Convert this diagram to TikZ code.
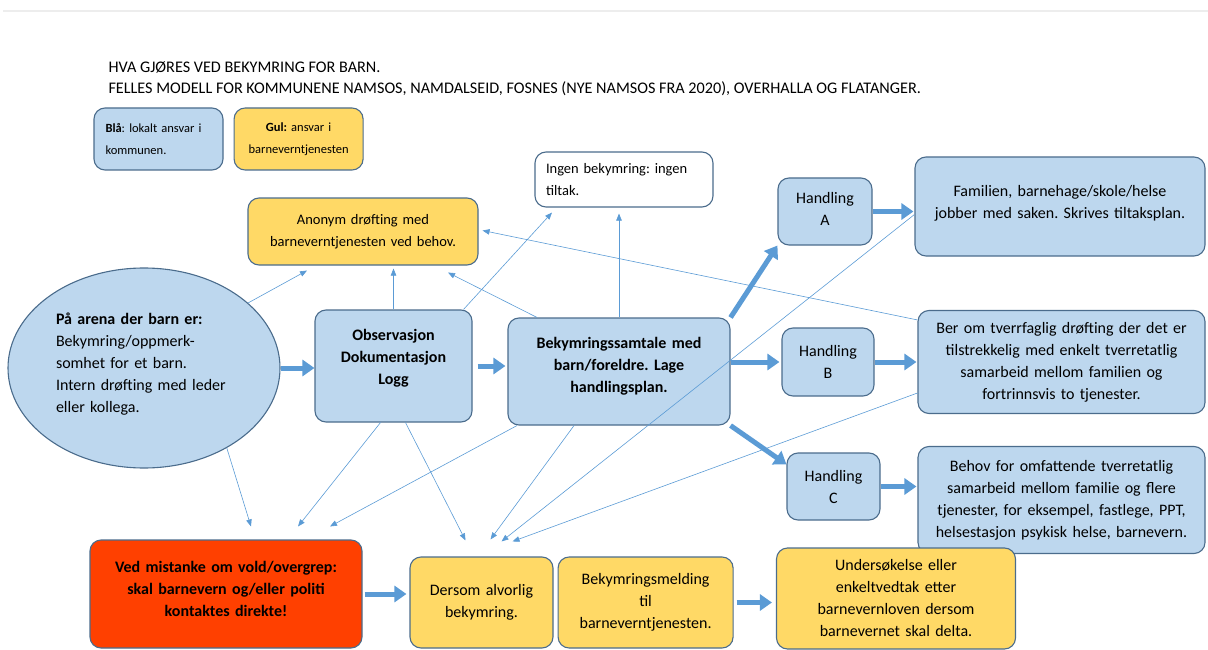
\documentclass[tikz,border=0pt]{standalone}
\usepackage{fontspec}
\setmainfont{Carlito}
\usepackage{tikz}
\usetikzlibrary{positioning}
\usetikzlibrary{arrows.meta}
\usetikzlibrary{shapes.geometric}
\definecolor{boxblue}{RGB}{189,215,238}
\definecolor{boxyellow}{RGB}{255,217,102}
\definecolor{boxred}{RGB}{255,64,0}
\definecolor{boxedge}{RGB}{75,108,140}
\definecolor{arrowblue}{RGB}{91,155,213}
\newcommand{\boxfont}{\fontsize{16}{22}\selectfont}
\newcommand{\smallfont}{\fontsize{14.5}{21.5}\selectfont}
\newcommand{\legendfont}{\fontsize{12.5}{21.5}\selectfont}
\newcommand{\titlefont}{\fontsize{16.2}{21}\selectfont}
\tikzset{
every picture/.style={line width=1pt},
bluebox/.style={rectangle, rounded corners=11pt, draw=boxedge, fill=boxblue, line width=1.1pt, inner sep=0pt, align=center, font=\boxfont},
yellowbox/.style={bluebox, fill=boxyellow},
redbox/.style={bluebox, fill=boxred},
whitebox/.style={bluebox, fill=white},
arenanode/.style={ellipse, draw=boxedge, fill=boxblue, line width=1.1pt, inner sep=0pt, align=left, font=\boxfont},
thinarrow/.style={draw=arrowblue, line width=0.6pt, -{Triangle[length=7pt,width=5.5pt]}},
fatarrow/.style={draw=arrowblue, line width=5pt, -{Triangle[length=12pt,width=16pt]}}
}

\begin{document}
\frenchspacing
\begin{tikzpicture}[x=1pt, y=-1pt]
\useasboundingbox (0,0) rectangle (1208,650);
\draw[black!7, line width=1.5pt] (3,11) -- (1208,11);

%Title
\node (title) [anchor=north west, align=left, inner sep=0pt, font=\titlefont] at (108,61) {HVA GJØRES VED BEKYMRING FOR BARN.\\FELLES MODELL FOR KOMMUNENE NAMSOS, NAMDALSEID, FOSNES (NYE NAMSOS FRA 2020), OVERHALLA OG FLATANGER.};

%Legend
\node (blaa) [bluebox, minimum width=129pt, minimum height=62pt, text width=106pt, align=left, font=\legendfont] at (158.5,139) {\textbf{Blå}: lokalt ansvar i\\kommunen.};
\node (gul) [yellowbox, right=10pt of blaa, minimum width=129pt, minimum height=62pt, text width=115pt, font=\legendfont] {\textbf{Gul:} ansvar i\\barneverntjenesten};

%Nodes
\node (ingen) [whitebox, minimum width=178pt, minimum height=55pt, text width=156pt, align=left, font=\smallfont] at (624,179.5) {Ingen bekymring: ingen\\tiltak.};
\node (anonym) [yellowbox, minimum width=230pt, minimum height=67pt, text width=220pt, font=\smallfont] at (363,231.5) {Anonym drøfting med\\barneverntjenesten ved behov.};
\node (handA) [bluebox, minimum width=94pt, minimum height=67pt, text width=86pt, text depth=28pt] at (825,211.5) {Handling\\A};
\node (familien) [bluebox, minimum width=290pt, minimum height=99pt, text width=282pt, text depth=32pt] at (1060,206.5) {Familien, barnehage/skole/helse\\jobber med saken. Skrives tiltaksplan.};
\node (arena) [arenanode, minimum width=272pt, minimum height=200pt, text width=176pt, text depth=98pt] at (144,368) {\textbf{På arena der barn er:}\\Bekymring/oppmerk-\\somhet for et barn.\\Intern drøfting med leder\\eller kollega.};
\node (obs) [bluebox, minimum width=157pt, minimum height=112pt, text width=145pt, text depth=62pt, font=\boxfont\bfseries] at (393.5,366) {Observasjon\\Dokumentasjon\\Logg};
\node (samtale) [bluebox, minimum width=222pt, minimum height=107pt, text width=212pt, text depth=58pt, font=\boxfont\bfseries] at (619,371.5) {Bekymringssamtale med\\barn/foreldre. Lage\\handlingsplan.};
\node (handB) [bluebox, minimum width=92pt, minimum height=68pt, text width=86pt] at (828,362) {Handling\\B};
\node (berom) [bluebox, minimum width=287pt, minimum height=103pt, text width=281pt] at (1061.5,362) {Ber om tverrfaglig drøfting der det er\\tilstrekkelig med enkelt tverretatlig\\samarbeid mellom familien og\\fortrinnsvis to tjenester.};
\node (handC) [bluebox, minimum width=93pt, minimum height=67pt, text width=86pt] at (833.5,486.5) {Handling\\C};
\node (behov) [bluebox, minimum width=287pt, minimum height=107pt, text width=281pt] at (1061.5,500) {Behov for omfattende tverretatlig\\samarbeid mellom familie og flere\\tjenester, for eksempel, fastlege, PPT,\\helsestasjon psykisk helse, barnevern.};
\node (mistanke) [redbox, minimum width=272pt, minimum height=108pt, text width=262pt, text depth=54pt, font=\boxfont\bfseries] at (226,594) {Ved mistanke om vold/overgrep:\\skal barnevern og/eller politi\\kontaktes direkte!};
\node (dersom) [yellowbox, minimum width=143pt, minimum height=91pt, text width=135pt] at (481.5,602.5) {Dersom alvorlig\\bekymring.};
\node (melding) [yellowbox, right=4pt of dersom, minimum width=175pt, minimum height=91pt, text width=167pt] {Bekymringsmelding\\til\\barneverntjenesten.};
\node (undersok) [yellowbox, minimum width=239pt, minimum height=101pt, text width=230pt] at (896,598.5) {Undersøkelse eller\\enkeltvedtak etter\\barnevernloven dersom\\barnevernet skal delta.};

%Thick arrows
\draw[fatarrow] (arena.east) -- (arena.east -| obs.west);
\draw[fatarrow, shorten <=5pt, shorten >=2pt] (obs.east) -- (obs.east -| samtale.west);
\draw[fatarrow] (samtale.north east) -- (handA.south west);
\draw[fatarrow, shorten >=2pt] (samtale.east |- handB.west) -- (handB.west);
\draw[fatarrow] (samtale.south east) -- ([yshift=-12pt]handC.north west);
\draw[fatarrow, shorten >=1pt] (handA.east) -- (handA.east -| familien.west);
\draw[fatarrow, shorten >=1pt] (handB.east) -- (handB.east -| berom.west);
\draw[fatarrow, shorten >=1pt] (handC.east) -- (handC.east -| behov.west);
\draw[fatarrow, shorten <=2pt, shorten >=3pt] (mistanke.east) -- (mistanke.east -| dersom.west);
\draw[fatarrow, shorten <=3pt, shorten >=4pt] (melding.east) -- (melding.east -| undersok.west);

%Thin arrows
\draw[thinarrow] (arena.32) -- ([xshift=-56pt,yshift=-5pt]anonym.south);
\draw[thinarrow] (obs.north) -- ([yshift=-3pt]obs.north |- anonym.south);
\draw[thinarrow] ([xshift=-82pt]samtale.north) -- ([xshift=85pt,yshift=-7pt]anonym.south);
\draw[thinarrow] ([yshift=-10pt]berom.north west) -- ([xshift=4pt,yshift=1pt]anonym.east);
\draw[thinarrow] ([xshift=70pt]obs.north) -- ([xshift=-72pt,yshift=-5pt]ingen.south);
\draw[thinarrow] (samtale.north) -- ([yshift=-6pt]samtale.north |- ingen.south);
\draw[thinarrow] (arena.-44) -- ([xshift=25pt,yshift=13pt]mistanke.north);
\draw[thinarrow] ([xshift=-13pt]obs.south) -- ([xshift=72pt,yshift=13pt]mistanke.north);
\draw[thinarrow] ([xshift=-102pt]samtale.south) -- ([xshift=104pt,yshift=13pt]mistanke.north);
\draw[thinarrow] ([xshift=12pt]obs.south) -- ([xshift=-16pt,yshift=16pt]dersom.north);
\draw[thinarrow] ([xshift=-45pt]samtale.south) -- ([xshift=9pt,yshift=17pt]dersom.north);
\draw[thinarrow] ([yshift=-8pt]familien.west) -- ([xshift=20pt,yshift=15pt]dersom.north);
\draw[thinarrow] ([yshift=-31pt]berom.west) -- ([xshift=31pt,yshift=15pt]dersom.north);
\end{tikzpicture}
\end{document}
